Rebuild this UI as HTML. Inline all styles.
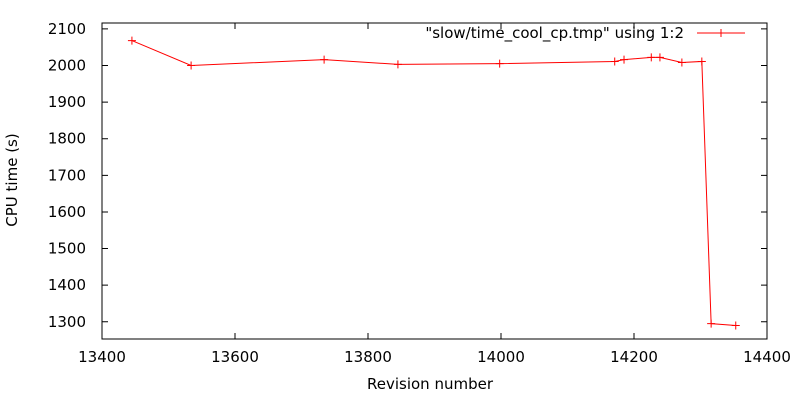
<!DOCTYPE html>
<html><head><meta charset="utf-8"><style>
body{margin:0;background:#fff}
svg{font-family:"DejaVu Sans","Liberation Sans",sans-serif;font-size:15px}
</style></head><body>
<svg id="c" width="800" height="400"></svg>
<script>
const revisions=[13445,13534,13734,13845,13998,14171,14185,14226,14239,14272,14302,14316,14353];
const cpuTimes=[2068,2000,2016,2003,2005,2011,2016,2022,2022,2008,2011,1295,1290];
const xTicks=[13400,13600,13800,14000,14200,14400];
const yTicks=[1300,1400,1500,1600,1700,1800,1900,2000,2100];
const L=102,R=767,T=23,B=339,xmin=13400,xmax=14400,ymin=1253,ymax=2116;
const X=v=>L+(v-xmin)/(xmax-xmin)*(R-L);
const Y=v=>B-(v-ymin)/(ymax-ymin)*(B-T);
const svg=document.getElementById('c');const NS='http://www.w3.org/2000/svg';
function mk(t,a,txt){const e=document.createElementNS(NS,t);for(const k in a)e.setAttribute(k,a[k]);if(txt!==undefined)e.textContent=txt;svg.appendChild(e);return e;}
let e=mk('rect',{x:L,y:T,width:R-L,height:B-T,fill:'none',stroke:'#000','stroke-width':1});


xTicks.forEach(v=>{const x=X(v);
 let t=mk('path',{d:`M${x},${B}v-6M${x},${T}v6`,stroke:'#000'});
 
 
 let l=mk('text',{x:x,y:B+23,'text-anchor':'middle',fill:'#000'},v);
 
 });
yTicks.forEach(v=>{const y=Y(v);
 let t=mk('path',{d:`M${L},${y}h6M${R},${y}h-6`,stroke:'#000'});
 
 
 let l=mk('text',{x:86,y:y+5,'text-anchor':'end',fill:'#000'},v);
 
 });
let d=revisions.map((r,i)=>(i?'L':'M')+X(r)+','+Y(cpuTimes[i])).join('');
e=mk('path',{d:d,fill:'none',stroke:'#f00','stroke-width':1});


revisions.forEach((r,i)=>{const x=X(r),y=Y(cpuTimes[i]);
 let p=mk('path',{d:`M${x-4},${y}h8M${x},${y-4}v8`,stroke:'#f00'});
 
 });
e=mk('text',{x:684,y:38,'text-anchor':'end',fill:'#000'},'"slow/time_cool_cp.tmp" using 1:2');


e=mk('path',{d:'M697,33h48M721,29v8',stroke:'#f00'});


e=mk('text',{x:430,y:389,'text-anchor':'middle',fill:'#000'},'Revision number');


e=mk('text',{x:17,y:180,'text-anchor':'middle',fill:'#000',transform:'rotate(-90 17 180)'},'CPU time (s)');


</script>
</body></html>
